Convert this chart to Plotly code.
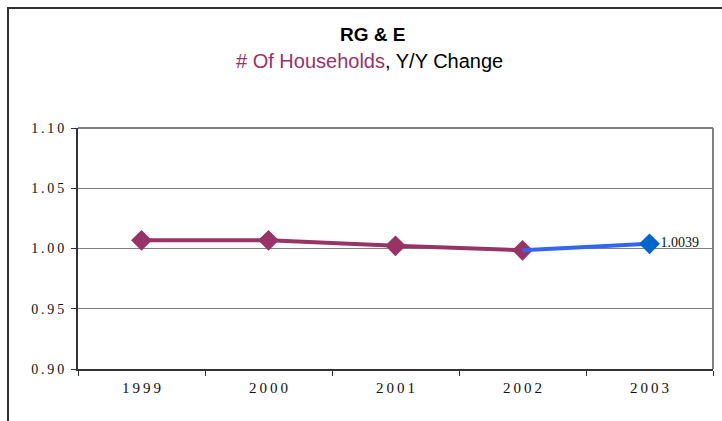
import plotly.graph_objects as go

years = ["1999", "2000", "2001", "2002", "2003"]
values = [1.0068, 1.0068, 1.0022, 0.9985, 1.0039]
label_2003 = "1.0039"
y_ticks = [0.90, 0.95, 1.00, 1.05, 1.10]

TS = "\u2009"
def spaced(s):
    return TS.join(list(s))

W, H = 722, 421
L, R, T, B = 78, 9, 128, 52
pw, ph = W - L - R, H - T - B

def px2x(px):
    return (px - L) / pw

def py2y(py):
    return (H - B - py) / ph

maroon = "#993366"
blue_line = "#3366EE"
blue_mark = "#0066CC"
txt = "#111111"

fig = go.Figure()
fig.add_trace(go.Scatter(
    x=years[:4], y=values[:4], mode="lines+markers",
    line=dict(color=maroon, width=4),
    marker=dict(symbol="diamond", size=16, color=maroon),
    showlegend=False, hoverinfo="skip"))
fig.add_trace(go.Scatter(
    x=years[3:], y=values[3:], mode="lines",
    line=dict(color=blue_line, width=4),
    showlegend=False, hoverinfo="skip"))
fig.add_trace(go.Scatter(
    x=years[4:], y=values[4:], mode="markers+text",
    marker=dict(symbol="diamond", size=16, color=blue_mark),
    text=[label_2003], textposition="middle right",
    textfont=dict(family="Liberation Serif", size=14, color=txt),
    showlegend=False, hoverinfo="skip"))

shapes = [
    # outer frame
    dict(type="line", xref="paper", yref="paper", x0=px2x(8), x1=px2x(8), y0=py2y(7), y1=py2y(425),
         line=dict(color="#333333", width=2)),
    dict(type="line", xref="paper", yref="paper", x0=px2x(7), x1=px2x(725), y0=py2y(8), y1=py2y(8),
         line=dict(color="#333333", width=2)),
    # plot area top & right
    dict(type="line", xref="paper", yref="paper", x0=0, x1=1, y0=1, y1=1,
         line=dict(color="#808080", width=2)),
    dict(type="line", xref="paper", yref="paper", x0=1, x1=1, y0=0, y1=1,
         line=dict(color="#808080", width=2)),
]

annotations = [
    dict(xref="paper", yref="paper", x=px2x(372), y=py2y(34), text="<b>RG &amp; E</b>",
         showarrow=False, xanchor="center", yanchor="middle",
         font=dict(family="Liberation Sans", size=19, color="#000000")),
    dict(xref="paper", yref="paper", x=px2x(369), y=py2y(61),
         text=f"<span style='color:{maroon}'># Of Households</span>, Y/Y Change",
         showarrow=False, xanchor="center", yanchor="middle",
         font=dict(family="Liberation Sans", size=20, color="#000000")),
]

fig.update_layout(
    width=W, height=H,
    margin=dict(l=L, r=R, t=T, b=B),
    paper_bgcolor="white", plot_bgcolor="white",
    shapes=shapes, annotations=annotations,
    xaxis=dict(type="category", categoryorder="array", categoryarray=years,
               tickmode="array", tickvals=years, ticktext=[spaced(y) for y in years],
               tickson="boundaries", ticks="outside", ticklen=5, tickcolor="#333333",
               showline=True, linecolor="#333333", linewidth=2, showgrid=False,
               range=[-0.5, 4.5], ticklabelstandoff=4,
               tickfont=dict(family="Liberation Serif", size=15, color=txt)),
    yaxis=dict(range=[0.9, 1.1], tickmode="array", tickvals=y_ticks,
               ticktext=[spaced(f"{v:.2f}") for v in y_ticks],
               ticks="outside", ticklen=5, tickcolor="#333333",
               showline=True, linecolor="#333333", linewidth=2,
               showgrid=True, gridcolor="#808080", gridwidth=1, zeroline=False,
               ticklabelstandoff=4,
               tickfont=dict(family="Liberation Serif", size=14, color=txt)),
)

fig.write_html("out.html", config={"displayModeBar": False},
               post_script="document.body.style.margin='0';")
